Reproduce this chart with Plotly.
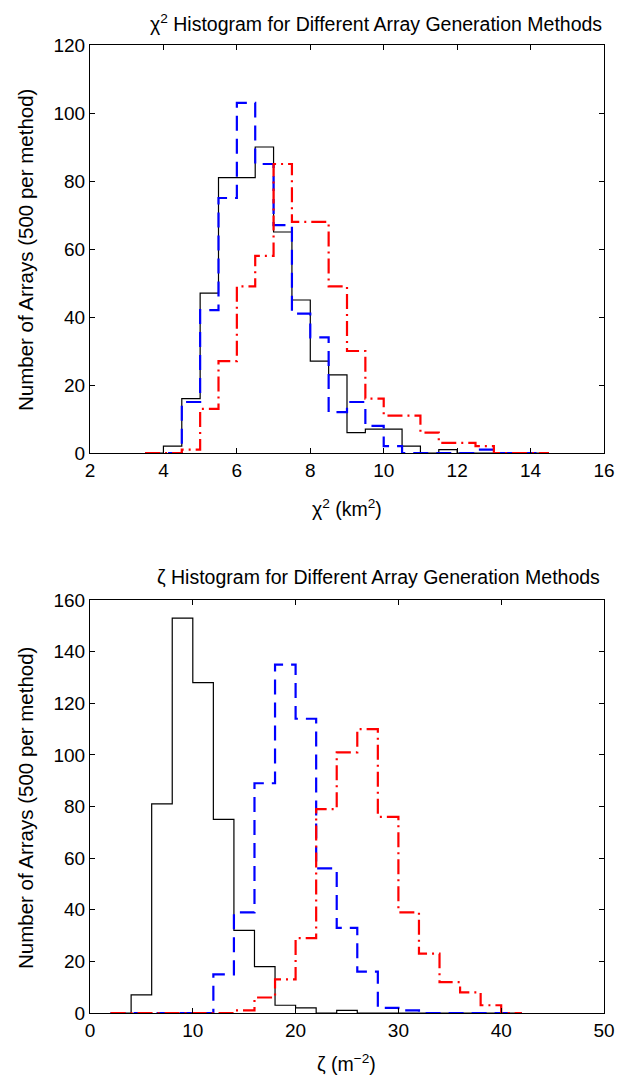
import plotly.graph_objects as go

# ---------------- data ----------------
# Top: chi^2 histogram, bins of width 0.5 (left edges 3.5 ... 14.0, last edge 14.5)
chi_edges = [3.5, 4.0, 4.5, 5.0, 5.5, 6.0, 6.5, 7.0, 7.5, 8.0, 8.5, 9.0, 9.5,
             10.0, 10.5, 11.0, 11.5, 12.0, 12.5, 13.0, 13.5, 14.0, 14.5]
chi_black = [0, 2, 16, 47, 81, 81, 90, 65, 45, 27, 23, 6, 7, 7, 2, 0, 1, 0, 0, 0, 0, 0]
chi_blue = [0, 0, 15, 42, 75, 103, 85, 67, 41, 34, 12, 15, 8, 2, 0, 0, 0, 0, 1, 0, 0, 0]
chi_red = [0, 0, 1, 13, 27, 49, 58, 85, 68, 68, 49, 30, 16, 11, 11, 6, 3, 3, 2, 0, 0, 0]

# Bottom: zeta histogram, bins of width 2 (left edges 2 ... 40, last edge 42)
zeta_edges = [2, 4, 6, 8, 10, 12, 14, 16, 18, 20, 22, 24, 26, 28, 30, 32, 34, 36, 38, 40, 42]
zeta_black = [0, 7, 81, 153, 128, 75, 32, 18, 3, 2, 0, 1, 0, 0, 0, 0, 0, 0, 0, 0]
zeta_blue = [0, 0, 0, 0, 0, 15, 39, 89, 135, 114, 56, 33, 16, 2, 1, 0, 0, 0, 0, 0]
zeta_red = [0, 0, 0, 0, 0, 0, 1, 6, 13, 29, 79, 101, 110, 76, 39, 23, 12, 8, 3, 0]

top_xticks = [2, 4, 6, 8, 10, 12, 14, 16]
top_yticks = [0, 20, 40, 60, 80, 100, 120]
bot_xticks = [0, 10, 20, 30, 40, 50]
bot_yticks = [0, 20, 40, 60, 80, 100, 120, 140, 160]

FONT = "Liberation Sans, Arial, Helvetica, sans-serif"
W, H = 619, 1082

styles = [
    dict(color="black", width=1.2, dash="solid"),
    dict(color="#0000ff", width=2.2, dash="15px,8px"),
    dict(color="#ff0000", width=2.2, dash="15px,5px,2px,5px"),
]

fig = go.Figure()


def add_stairs(edges, counts, style, xa, ya):
    ys = list(counts) + [counts[-1]]
    fig.add_trace(go.Scatter(x=edges, y=ys, mode="lines", line_shape="hv",
                             line=style, xaxis=xa, yaxis=ya, showlegend=False,
                             hoverinfo="skip"))


for cnt, st in zip([chi_black, chi_blue, chi_red], styles):
    add_stairs(chi_edges, cnt, st, "x", "y")
for cnt, st in zip([zeta_black, zeta_blue, zeta_red], styles):
    add_stairs(zeta_edges, cnt, st, "x2", "y2")

# pixel geometry
L, R = 90, 604
top_t, top_b = 45, 453
bot_t, bot_b = 600, 1013


def fx(px):
    return px / W


def fy(py):
    return 1 - py / H


axis_common = dict(showline=True, linecolor="black", linewidth=1, mirror="ticks",
                   ticks="inside", ticklen=5, tickwidth=1, tickcolor="black",
                   showgrid=False, zeroline=False, automargin=False,
                   tickfont=dict(family=FONT, size=19, color="black"))

fig.update_layout(
    width=W, height=H, margin=dict(l=0, r=0, t=0, b=0),
    paper_bgcolor="white", plot_bgcolor="white",
    font=dict(family=FONT, size=19, color="black"),
    xaxis=dict(domain=[fx(L), fx(R)], range=[2, 16], tickvals=top_xticks,
               anchor="y", **axis_common),
    yaxis=dict(domain=[fy(top_b), fy(top_t)], range=[0, 120], tickvals=top_yticks,
               anchor="x", **axis_common),
    xaxis2=dict(domain=[fx(L), fx(R)], range=[0, 50], tickvals=bot_xticks,
                anchor="y2", **axis_common),
    yaxis2=dict(domain=[fy(bot_b), fy(bot_t)], range=[0, 160], tickvals=bot_yticks,
                anchor="x2", **axis_common),
)

ann = []


def text(s, px, py, size=19, angle=0):
    ann.append(dict(text=s, x=fx(px), y=fy(py), xref="paper", yref="paper",
                    showarrow=False, xanchor="center", yanchor="middle",
                    textangle=angle, font=dict(family=FONT, size=size, color="black")))


text("χ<sup>2</sup> Histogram for Different Array Generation Methods", 376, 23, 19.5)
text("χ<sup>2</sup> (km<sup>2</sup>)", 347, 508, 19.5)
text("Number of Arrays (500 per method)", 25, 250, 20.5, -90)

text("ζ Histogram for Different Array Generation Methods", 378, 577, 19.5)
text("ζ (m<sup>−2</sup>)", 347, 1063, 19.5)
text("Number of Arrays (500 per method)", 25, 808, 20.5, -90)

fig.update_layout(annotations=ann)

fig.write_html("out.html")
